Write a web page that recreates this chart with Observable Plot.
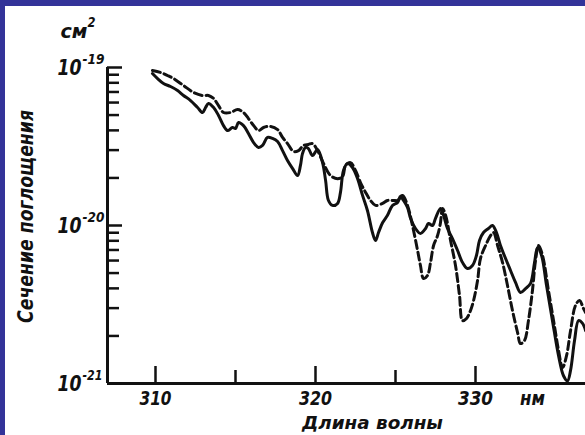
<!DOCTYPE html>
<html><head><meta charset="utf-8">
<script src="https://cdn.jsdelivr.net/npm/d3@7"></script>
<script src="https://cdn.jsdelivr.net/npm/@observablehq/plot@0.6"></script>
<style>
html,body{margin:0;padding:0;background:#fff;}
#wrap{position:relative;width:585px;height:435px;overflow:hidden;background:#fff;}
#wrap svg{position:absolute;left:0;top:0;}
.bl{position:absolute;left:0;top:0;width:5px;height:435px;background:#333399;}
.bt{position:absolute;left:0;top:0;width:585px;height:6px;background:#333399;}
</style></head><body><div id="wrap"><div class="bl"></div><div class="bt"></div></div>
<script>
// wavelength, nm
const lamDashed = [309.81,310.31,310.75,311.13,311.75,312.38,312.94,313.31,313.63,313.94,314.25,314.69,315.13,315.5,315.81,316.13,316.44,316.75,317.19,317.63,317.94,318.25,318.63,318.94,319.25,319.56,319.81,320.13,320.5,320.94,321.38,321.69,321.88,322.19,322.5,322.81,323.13,323.44,323.75,324.19,324.5,324.88,325.13,325.44,325.75,326.06,326.38,326.56,326.75,327.0,327.19,327.38,327.63,327.81,327.94,328.13,328.44,328.75,329.0,329.19,329.44,329.69,329.88,330.13,330.31,330.63,330.94,331.13,331.38,331.69,332.0,332.31,332.63,332.81,333.06,333.31,333.56,333.75,333.94,334.19,334.56,334.88,335.19,335.44,335.69,335.94,336.25,336.5,336.75,336.88];
// cross-section, units of 1e-21 cm^2
const sigDashed = [95.7,93.0,89.0,85.1,76.9,69.5,66.5,66.5,63.7,57.4,51.9,51.9,54.2,51.9,47.5,42.9,39.9,41.7,42.4,40.5,36.1,33.0,29.4,29.8,32.1,32.6,33.0,29.8,24.7,20.7,19.8,20.4,24.0,25.0,22.3,18.7,16.2,14.4,13.4,13.8,14.4,14.4,14.4,15.5,13.4,10.0,6.95,5.58,4.62,4.83,5.83,7.47,8.64,10.4,12.8,11.6,8.04,5.58,3.61,2.50,2.58,2.90,3.35,4.49,6.18,7.47,8.64,9.03,7.47,5.83,4.17,2.90,2.10,1.79,1.87,2.50,3.88,6.00,7.47,6.46,3.88,2.50,1.62,1.26,1.50,2.16,3.12,3.35,2.98,2.81];
const lamSolid = [309.81,310.13,310.5,310.94,311.38,311.75,312.19,312.63,312.94,313.13,313.31,313.63,313.94,314.25,314.5,314.81,315.0,315.19,315.5,315.81,316.13,316.44,316.69,317.0,317.31,317.63,317.94,318.25,318.56,318.88,319.06,319.19,319.38,319.56,319.81,320.13,320.44,320.63,320.81,321.06,321.38,321.56,321.75,322.0,322.31,322.63,322.94,323.25,323.56,323.75,323.94,324.19,324.5,324.81,325.13,325.31,325.5,325.75,325.94,326.25,326.56,326.88,327.06,327.31,327.5,327.81,328.0,328.25,328.56,328.88,329.19,329.5,329.81,330.06,330.25,330.5,330.81,331.06,331.31,331.56,331.88,332.19,332.5,332.81,333.13,333.44,333.69,333.88,334.13,334.44,334.81,335.19,335.5,335.75,335.94,336.19,336.44,336.69,336.88];
const sigSolid = [91.6,85.1,79.2,75.8,71.5,66.5,61.8,55.8,51.9,55.8,59.2,55.8,49.7,42.9,39.9,41.7,41.1,44.9,42.9,38.2,33.5,31.2,32.1,36.1,35.6,34.0,29.8,25.8,23.0,20.7,24.0,28.6,31.2,30.7,27.7,30.3,25.0,19.3,14.4,13.4,13.8,16.2,22.3,24.7,23.3,19.8,15.5,12.4,9.03,8.04,9.03,10.4,11.6,13.4,14.0,15.3,14.4,13.0,11.1,9.57,8.90,9.57,10.3,10.0,11.1,12.8,11.6,9.57,8.27,6.95,5.83,5.34,5.58,6.46,8.04,9.03,9.57,10.0,9.03,7.47,6.18,5.19,4.36,3.77,3.99,4.30,5.83,7.26,6.46,4.17,2.50,1.50,1.12,1.04,1.21,1.87,2.50,2.40,2.16];

const xMajorTicks = [310, 320, 330];
const xMinorTicks = [315, 325];
const xTickLabels = ["310", "320", "330"];
const yDecades = [1e-21, 1e-20, 1e-19];
const yDecadeExp = ["-21", "-20", "-19"];
const yMinorTicks = [2e-21,3e-21,4e-21,5e-21,6e-21,7e-21,8e-21,9e-21,2e-20,3e-20,4e-20,5e-20,6e-20,7e-20,8e-20,9e-20];
const xUnit = "нм";
const xTitle = "Длина волны";
const yTitle = "Сечение поглощения";
const yUnit = "см";
const yUnitExp = "2";

const dashed = lamDashed.map((l, i) => ({l, s: sigDashed[i] * 1e-21}));
const solid = lamSolid.map((l, i) => ({l, s: sigSolid[i] * 1e-21}));

const W = 585, H = 435, mL = 107, mR = 0, mT = 67, mB = 52;
const fw = W - mL - mR, fh = H - mT - mB;
const FONT = "'DejaVu Sans Condensed', 'DejaVu Sans', sans-serif";
const txt = {fontFamily: FONT, fontStyle: "italic", fontWeight: "bold", fill: "#111"};

const plot = Plot.plot({
  width: W, height: H,
  marginLeft: mL, marginRight: mR, marginTop: mT, marginBottom: mB,
  style: {fontFamily: FONT, background: "transparent", overflow: "visible"},
  x: {domain: [307, 336.875], axis: null},
  y: {type: "log", domain: [1e-21, 1e-19], axis: null},
  marks: [
    Plot.line(solid, {x: "l", y: "s", stroke: "#111", strokeWidth: 3, curve: "catmull-rom", strokeLinejoin: "round"}),
    Plot.line(dashed, {x: "l", y: "s", stroke: "#111", strokeWidth: 3, curve: "catmull-rom", strokeDasharray: "8,4"}),
    Plot.ruleX([307], {stroke: "#111", strokeWidth: 3}),
    Plot.ruleY([1e-21], {stroke: "#111", strokeWidth: 3}),
    Plot.tickY(yMinorTicks, {y: d => d, insetRight: fw - 12, stroke: "#111", strokeWidth: 2.5}),
    Plot.tickY(yDecades, {y: d => d, insetRight: fw - 15, stroke: "#111", strokeWidth: 2.5}),
    Plot.tickX(xMajorTicks, {x: d => d, insetTop: fh - 17, stroke: "#111", strokeWidth: 2.5}),
    Plot.tickX(xMinorTicks, {x: d => d, insetTop: fh - 13, stroke: "#111", strokeWidth: 2.5}),
    Plot.text(xMajorTicks, {x: d => d, text: (d, i) => xTickLabels[i], frameAnchor: "bottom", dy: 21, fontSize: 20, ...txt}),
    Plot.text([333.56], {x: d => d, text: () => xUnit, frameAnchor: "bottom", dy: 21, fontSize: 20, ...txt}),
    Plot.text([323.56], {x: d => d, text: () => xTitle, frameAnchor: "bottom", dy: 45, fontSize: 18, ...txt}),
    Plot.text(yDecades, {y: d => d, text: () => "10", frameAnchor: "left", dx: -26, textAnchor: "end", fontSize: 22, ...txt}),
    Plot.text(yDecades, {y: d => d, text: (d, i) => yDecadeExp[i], frameAnchor: "left", dx: -25, dy: -8, textAnchor: "start", fontSize: 14, ...txt}),
    Plot.text([yUnit], {text: d => d, frameAnchor: "top-left", dx: -47, dy: -44, textAnchor: "start", fontSize: 20, ...txt}),
    Plot.text([yUnitExp], {text: d => d, frameAnchor: "top-left", dx: -20, dy: -50, textAnchor: "start", fontSize: 14, ...txt}),
    Plot.text([yTitle], {text: d => d, frameAnchor: "left", dx: -81, dy: -9, rotate: -90, textAnchor: "middle", fontSize: 21, ...txt})
  ]
});
document.getElementById("wrap").prepend(plot);

// fit the lettering to the narrow drafting face of the original
const targetWidth = {"310": 32, "320": 33, "330": 35, "нм": 25, "Длина волны": 141, "10": 24,
  "-19": 22, "-20": 22, "-21": 20, "см": 27, "2": 8, "Сечение поглощения": 213};
d3.select(plot).selectAll("text").each(function () {
  const w = targetWidth[this.textContent];
  if (w) {
    this.setAttribute("textLength", w);
    this.setAttribute("lengthAdjust", "spacingAndGlyphs");
  }
});
</script></body></html>
